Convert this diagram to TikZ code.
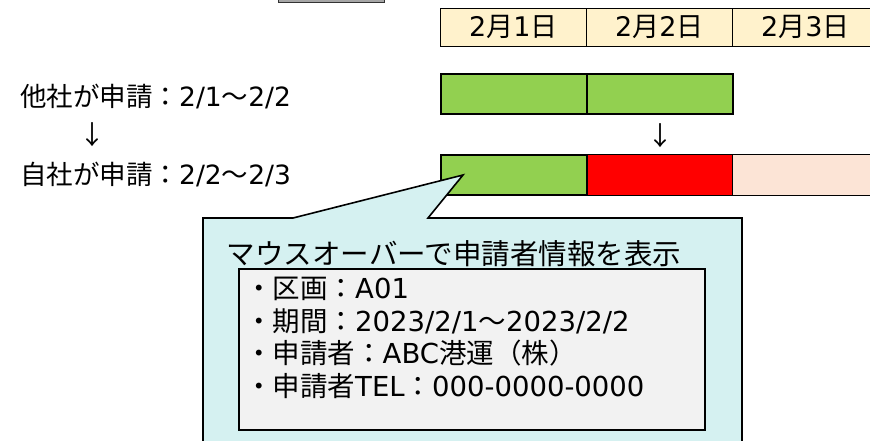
\documentclass[tikz,border=0pt]{standalone}
\usepackage{fontspec}
\setmainfont{Noto Sans CJK JP}
\newfontfamily\latf{DejaVu Sans}
\newcommand{\lt}[1]{{\latf #1}}
\definecolor{hdrfill}{HTML}{FFF2CC}
\definecolor{grn}{HTML}{92D050}
\definecolor{rd}{HTML}{FF0000}
\definecolor{pnk}{HTML}{FCE4D6}
\definecolor{cyanfill}{HTML}{D5F1F1}
\definecolor{innerfill}{HTML}{F2F2F2}
\definecolor{grayfill}{HTML}{A6A6A6}
\tikzset{
  hdr/.style={draw=black, line width=0.7pt, fill=hdrfill, minimum width=146pt, minimum height=38pt, anchor=north west, inner sep=0pt, font=\fontsize{27}{30}\selectfont},
  gbar/.style={draw=black, line width=1.6pt, fill=grn, minimum width=146pt, minimum height=40pt, anchor=north west, inner sep=0pt},
  tbar/.style={draw=black, line width=0.8pt, minimum width=146pt, minimum height=41pt, anchor=north west, inner sep=0pt},
  lbl/.style={anchor=west, inner sep=0pt, font=\fontsize{26.5}{30}\selectfont},
  infoline/.style={anchor=west, inner sep=0pt, font=\fontsize{27.5}{30}\selectfont},
}
\begin{document}
\begin{tikzpicture}[x=1pt,y=-1pt]
\useasboundingbox (0,0) rectangle (870,440);
\clip (0,0) rectangle (870,440);
% small gray box at top
\node[draw=black!80, line width=0.8pt, fill=grayfill, minimum width=106pt, minimum height=16pt, anchor=south west, inner sep=0pt] (topbox) at (278,3) {};
% header
\node[hdr] (d1) at (440,8) {\lt{2}月\lt{1}日};
\node[hdr] (d2) at (586,8) {\lt{2}月\lt{2}日};
\node[hdr] (d3) at (732,8) {\lt{2}月\lt{3}日};
% row 1
\node[gbar] (a1) at (440,73) {};
\node[gbar] (a2) at (586,73) {};
% row 2
\node[tbar, fill=pnk] (b3) at (732,154) {};
\node[tbar, fill=rd] (b2) at (586,154) {};
\node[gbar] (b1) at (440,154) {};
% arrows as text
\node[inner sep=0pt, font=\fontsize{26}{30}\selectfont] (arr2) at (660,136) {↓};
% left labels
\node[lbl] (l1) at (20,97) {他社が申請：\lt{2/1}～\lt{2/2}};
\node[inner sep=0pt, font=\fontsize{26}{30}\selectfont] (arr1) at (92,135) {↓};
\node[lbl] (l2) at (20,175) {自社が申請：\lt{2/2}～\lt{2/3}};
% callout
\coordinate (tip) at (463,175);
\draw[line width=1.6pt, fill=cyanfill, line join=miter] (203,450) -- (203,218) -- (293,218) -- (tip) -- (428,218) -- (742,218) -- (742,450);
\node[inner sep=0pt, font=\fontsize{28.5}{33}\selectfont] (title) at (454,254) {マウスオーバーで申請者情報を表示};
\node[draw=black, line width=1.6pt, fill=innerfill, minimum width=466pt, minimum height=161pt, anchor=north west, inner sep=0pt] (info) at (238,268) {};
\node[infoline] (i1) at (245,289) {・区画：\lt{A01}};
\node[infoline] (i2) at (245,321) {・期間：\lt{2023/2/1}～\lt{2023/2/2}};
\node[infoline] (i3) at (245,353) {・申請者：\lt{ABC}港運（株）};
\node[infoline] (i4) at (245,386) {・申請者\lt{TEL}：\lt{000-0000-0000}};
\end{tikzpicture}
\end{document}
